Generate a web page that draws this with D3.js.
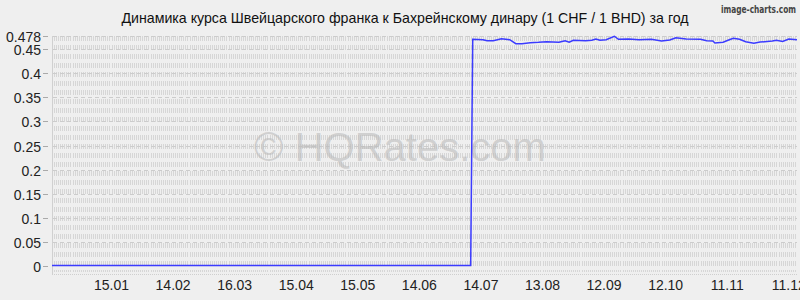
<!DOCTYPE html>
<html>
<head>
<meta charset="utf-8">
<script src="https://cdnjs.cloudflare.com/ajax/libs/d3/7.8.5/d3.min.js"></script>
<style>
	body { margin: 0; background: #efefef; }
	svg { display: block; font-family: "Liberation Sans", Arial, sans-serif; }
</style>
</head>
<body>
<div id="chart"></div>
<script>
var title = "Динамика курса Швейцарского франка к Бахрейнскому динару (1 CHF / 1 BHD) за год";

var dates = ["2013-12-17", "2014-07-09", "2014-07-10", "2014-07-15", "2014-07-17", "2014-07-20",
	"2014-07-24", "2014-07-28", "2014-07-31", "2014-08-03", "2014-08-07", "2014-08-11",
	"2014-08-15", "2014-08-21", "2014-08-24", "2014-08-26", "2014-08-28", "2014-09-03",
	"2014-09-06", "2014-09-08", "2014-09-10", "2014-09-13", "2014-09-17", "2014-09-19",
	"2014-09-24", "2014-09-29", "2014-10-05", "2014-10-10", "2014-10-14", "2014-10-17",
	"2014-10-22", "2014-10-29", "2014-11-01", "2014-11-04", "2014-11-05", "2014-11-09",
	"2014-11-12", "2014-11-14", "2014-11-17", "2014-11-20", "2014-11-24", "2014-11-27",
	"2014-12-03", "2014-12-05", "2014-12-08", "2014-12-11", "2014-12-15"];

var rates = [0, 0, 0.4712, 0.4703, 0.4682, 0.4682,
	0.4724, 0.4703, 0.4620, 0.4620, 0.4641, 0.4649,
	0.4662, 0.4649, 0.4682, 0.4649, 0.4691, 0.4682,
	0.4691, 0.4718, 0.4691, 0.4703, 0.4775, 0.4712,
	0.4718, 0.4703, 0.4712, 0.4676, 0.4697, 0.4745,
	0.4718, 0.4712, 0.4682, 0.4676, 0.4635, 0.4649,
	0.4703, 0.4732, 0.4712, 0.4662, 0.4628, 0.4653,
	0.4676, 0.4691, 0.4668, 0.4718, 0.4703];

var yTicks = [0, 0.05, 0.1, 0.15, 0.2, 0.25, 0.3, 0.35, 0.4, 0.45, 0.478];
var xTicks = ["2014-01-15", "2014-02-14", "2014-03-16", "2014-04-15", "2014-05-15", "2014-06-14",
	"2014-07-14", "2014-08-13", "2014-09-12", "2014-10-12", "2014-11-11", "2014-12-11"];

var parse = d3.timeParse("%Y-%m-%d");
var width = 800, height = 300;

var x = d3.scaleTime()
	.domain([parse("2013-12-17"), parse("2014-12-15")])
	.range([52, 797]);
var y = d3.scaleLinear()
	.domain([-0.0175, 0.478])
	.range([274, 36]);

var svg = d3.select("#chart")
  .append("svg")
	.attr("width", width)
	.attr("height", height);

svg.append("rect")
	.attr("width", width)
	.attr("height", height)
	.style("fill", "#efefef");

//daily vertical grid
var days = d3.timeDay.range(x.domain()[0], x.domain()[1]);
svg.append("g").selectAll("line")
	.data(days)
  .enter().append("line")
	.attr("x1", function(d) { return Math.round(x(d)) + 0.5; })
	.attr("x2", function(d) { return Math.round(x(d)) + 0.5; })
	.attr("y1", y.range()[1])
	.attr("y2", y.range()[0] - 2)
	.style("stroke", "#d6d6d6")
	.style("stroke-width", 1)
	.style("stroke-dasharray", "5,4");

//left border
svg.append("line")
	.attr("x1", 52.5).attr("x2", 52.5)
	.attr("y1", y.range()[1]).attr("y2", y.range()[0])
	.style("stroke", "#d0d0d0");

//bottom dotted line
svg.append("line")
	.attr("x1", 52).attr("x2", 797)
	.attr("y1", 274.5).attr("y2", 274.5)
	.style("stroke", "#cfcfcf")
	.style("stroke-dasharray", "1,1");

//horizontal grid + y labels
var yg = svg.append("g").selectAll("g")
	.data(yTicks)
  .enter().append("g")
	.attr("transform", function(d) { return "translate(0," + (Math.round(y(d)) + 0.5) + ")"; });
yg.append("line")
	.attr("x1", 53).attr("x2", 797)
	.style("stroke", function(d) { return d == 0 ? "none" : "#cccccc"; })
	.style("stroke-dasharray", "4,3");
yg.append("line")
	.attr("x1", 43).attr("x2", 48)
	.style("stroke", "#aaaaaa");
yg.append("text")
	.attr("x", 41)
	.attr("y", 5)
	.attr("text-anchor", "end")
	.style("font-size", "14px")
	.style("fill", "#222")
	.text(function(d) { return d; });

//x labels
svg.append("g").selectAll("text")
	.data(xTicks)
  .enter().append("text")
	.attr("x", function(d) { return x(parse(d)); })
	.attr("y", 290)
	.attr("text-anchor", "middle")
	.style("font-size", "14px")
	.style("fill", "#222")
	.text(function(d) { return d3.timeFormat("%d.%m")(parse(d)); });

//watermark
svg.append("text")
	.attr("x", 400)
	.attr("y", 161)
	.attr("text-anchor", "middle")
	.style("font-size", "40px")
	.style("fill", "#bbbbbb")
	.style("fill-opacity", 0.6)
	.text("© HQRates.com");

//rate line
var points = dates.map(function(d, i) { return [parse(d), rates[i]]; });
svg.append("path")
	.datum(points)
	.attr("d", d3.line()
		.x(function(d) { return x(d[0]); })
		.y(function(d) { return y(d[1]); }))
	.style("fill", "none")
	.style("stroke", "#3b3bff")
	.style("stroke-width", 1.5);

//title
svg.append("text")
	.attr("x", 405)
	.attr("y", 23)
	.attr("text-anchor", "middle")
	.style("font-size", "14.2px")
	.style("fill", "#111")
	.text(title);

svg.append("text")
	.attr("x", 721)
	.attr("y", 13)
	.attr("textLength", 75)
	.attr("lengthAdjust", "spacingAndGlyphs")
	.style("font-family", "'DejaVu Sans Condensed', 'DejaVu Sans', sans-serif")
	.style("font-weight", "bold")
	.style("font-size", "10px")
	.style("fill", "#444")
	.text("image-charts.com");
</script>
</body>
</html>
